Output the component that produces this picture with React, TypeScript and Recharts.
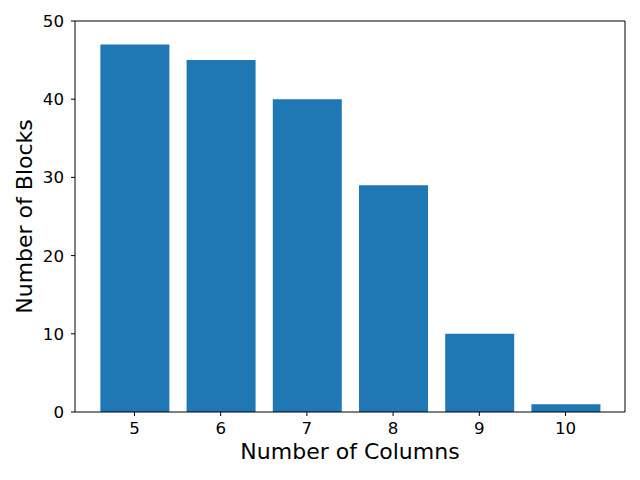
import React from 'react';
import { BarChart, Bar, XAxis, YAxis, ReferenceLine } from 'recharts';

const columns = [5, 6, 7, 8, 9, 10];
const blocks = [47, 45, 40, 29, 10, 1];
const yTicks = [0, 10, 20, 30, 40, 50];
const xDomain = [4.31, 10.69];

const data = columns.map((c, i) => ({ columns: c, blocks: blocks[i] }));

const FONT = '"DejaVu Sans", sans-serif';
const tickStyle = { fontSize: 16.67, fill: '#000', fontFamily: FONT };
const labelStyle = { fontSize: 22, fill: '#000', fontFamily: FONT, textAnchor: 'middle' as const };

const App: React.FC = () => {
  return (
    <div style={{ position: 'absolute', top: 0, left: 0, background: '#fff' }}>
      <BarChart
        width={640}
        height={480}
        data={data}
        margin={{ top: 21, right: 15, left: 0, bottom: 0 }}
      >
        <XAxis
          dataKey="columns"
          type="number"
          domain={xDomain}
          ticks={columns}
          height={68}
          stroke="#000"
          tickLine={{ stroke: '#000' }}
          tickSize={4}
          tickMargin={6}
          tick={tickStyle}
          label={{ value: 'Number of Columns', position: 'insideBottom', offset: 21, style: labelStyle }}
        />
        <YAxis
          domain={[0, 50]}
          ticks={yTicks}
          width={75}
          stroke="#000"
          tickLine={{ stroke: '#000' }}
          tickSize={4}
          tickMargin={7}
          tick={tickStyle}
          label={{ value: 'Number of Blocks', angle: -90, position: 'insideLeft', offset: 24, style: labelStyle }}
        />
        <Bar dataKey="blocks" fill="#1f77b4" barSize={69} isAnimationActive={false} />
        <ReferenceLine y={50} stroke="#000" strokeWidth={1} />
        <ReferenceLine x={xDomain[1]} stroke="#000" strokeWidth={1} />
      </BarChart>
    </div>
  );
};

export default App;
